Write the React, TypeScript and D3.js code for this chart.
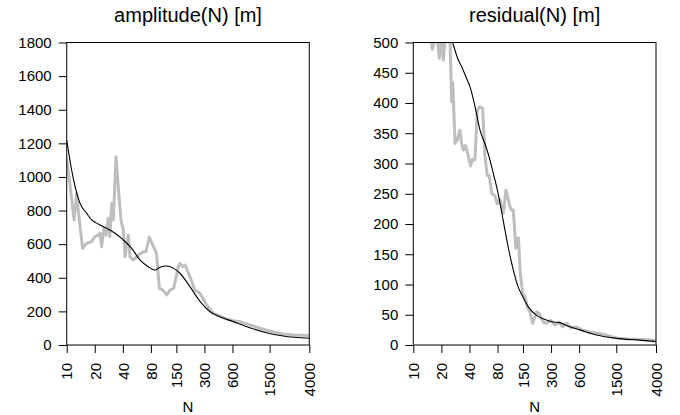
import { useEffect, useRef } from 'react';
import * as d3 from 'd3';

// x positions (N) shared by both panels
const xTicks = [10, 20, 40, 80, 150, 300, 600, 1500, 4000];
const ampTicks = [0, 200, 400, 600, 800, 1000, 1200, 1400, 1600, 1800];
const resTicks = [0, 50, 100, 150, 200, 250, 300, 350, 400, 450, 500];

// amplitude(N) – grey (raw) series
const ampGreyN = [10, 10.8, 12, 12.8, 13.3, 14.8, 16.4, 18.5, 20, 21.8, 22.8, 23.7, 25.1, 26.4, 27.9, 29, 30.4, 31.6, 33.8, 35.7, 38.2, 40.5, 42.2, 45.8, 47.8, 51.8, 58.8, 66.3, 70.8, 76.9, 85, 92, 98.5, 108, 118, 128, 140, 151, 157, 164, 175, 186, 210, 237, 270, 317, 372, 440, 520, 610, 720, 920, 1100, 1390, 1700, 2100, 2700, 3300, 4000];
const ampGrey = [1110, 962, 744, 903, 803, 575, 605, 615, 645, 654, 665, 585, 694, 654, 754, 645, 843, 744, 1120, 942, 744, 684, 525, 654, 525, 506, 535, 555, 555, 641, 585, 545, 337, 327, 298, 327, 337, 417, 466, 486, 466, 476, 406, 327, 307, 238, 189, 172, 155, 145, 138, 120, 105, 88, 76, 66, 60, 58, 57];

// amplitude(N) – black (smoothed) series
const ampBlackN = [10, 11.3, 12.3, 13.9, 16.4, 18.5, 20.5, 22.8, 26.9, 30, 33, 40.5, 49.8, 61, 75, 88.5, 100, 118, 140, 164, 210, 270, 345, 440, 610, 920, 1390, 2100, 4000];
const ampBlack = [1220, 1041, 942, 843, 783, 745, 728, 714, 694, 680, 665, 625, 575, 506, 466, 446, 462, 470, 456, 427, 347, 258, 198, 168, 139, 103, 73, 54, 40];

// residual(N) – grey (raw) series
const resGreyN = [10, 12, 14, 16, 17.8, 19, 19.8, 21, 22.2, 24, 24.8, 25.8, 26.5, 28, 29.6, 31.6, 33, 34.4, 36.4, 38.8, 41.2, 43.3, 45.8, 48.5, 51.8, 55.4, 58.6, 62.1, 65.2, 69.3, 75, 79.4, 84.9, 92.2, 98.5, 108.6, 113, 118, 126, 128, 134, 140, 149, 157, 167, 178, 190, 210, 224, 247, 268, 296, 330, 367, 398, 439, 497, 562, 636, 800, 1086, 1300, 1510, 2000, 2680, 3300, 4000];
const resGrey = [760, 640, 560, 489, 520, 474, 515, 471, 520, 540, 500, 402, 434, 333, 339, 355, 333, 322, 330, 313, 296, 307, 306, 388, 394, 391, 313, 280, 280, 250, 247, 233, 241, 218, 256, 229, 223, 223, 160, 175, 177, 120, 85, 80, 63, 55, 36, 55, 52, 38, 36, 41, 33, 38, 30, 36, 28, 30, 25, 21, 18, 14, 11.5, 10, 9, 8.5, 7];

// residual(N) – black (smoothed) series
const resBlackN = [10, 13, 17, 22, 26.4, 30.4, 33, 37.4, 40.5, 45.9, 51.9, 58.6, 66.3, 72, 81, 92, 104, 118, 133, 149, 171, 210, 258, 318, 372, 458, 612, 922, 1510, 2680, 4000];
const resBlack = [900, 720, 600, 540, 500, 471, 460, 440, 427, 394, 355, 333, 306, 284, 251, 206, 162, 124, 96, 80, 63, 49, 42, 38, 37, 31, 25, 16.5, 11, 8, 5.5];

const FONT = '"Liberation Sans", Arial, Helvetica, sans-serif';

export default function App() {
  const svgRef = useRef<SVGSVGElement>(null);

  useEffect(() => {
    document.body.style.margin = '0';
    if (!svgRef.current) return;
    const svg = d3.select(svgRef.current);
    svg.selectAll('*').remove();

    const top = 42.5;
    const bottom = 345;

    const drawPanel = (
      id: string,
      left: number,
      right: number,
      title: string,
      yMax: number,
      yTicks: number[],
      greyN: number[],
      grey: number[],
      blackN: number[],
      black: number[]
    ) => {
      const x = d3.scaleLog().domain([10, 4000]).range([left, right]);
      const y = d3.scaleLinear().domain([0, yMax]).range([bottom, top]);
      const g = svg.append('g');

      g.append('clipPath')
        .attr('id', id)
        .append('rect')
        .attr('x', left)
        .attr('y', top)
        .attr('width', right - left)
        .attr('height', bottom - top);

      const greyLine = d3.line<[number, number]>()
        .x(d => x(d[0]))
        .y(d => y(d[1]));
      const blackLine = d3.line<[number, number]>()
        .x(d => x(d[0]))
        .y(d => y(d[1]))
        .curve(d3.curveMonotoneX);

      const greyPts = greyN.map((n, i) => [n, grey[i]] as [number, number]);
      const blackPts = blackN.map((n, i) => [n, black[i]] as [number, number]);

      g.append('path')
        .attr('d', greyLine(greyPts))
        .attr('fill', 'none')
        .attr('stroke', '#bebebe')
        .attr('stroke-width', 3)
        .attr('stroke-linejoin', 'round')
        .attr('clip-path', `url(#${id})`);

      g.append('path')
        .attr('d', blackLine(blackPts))
        .attr('fill', 'none')
        .attr('stroke', '#000')
        .attr('stroke-width', 1.1)
        .attr('clip-path', `url(#${id})`);

      // box
      g.append('rect')
        .attr('x', left)
        .attr('y', top)
        .attr('width', right - left)
        .attr('height', bottom - top)
        .attr('fill', 'none')
        .attr('stroke', '#000')
        .attr('stroke-width', 1);

      // y axis
      const yAxis = g.append('g')
        .attr('transform', `translate(${left},0)`)
        .call(d3.axisLeft(y).tickValues(yTicks).tickSize(8).tickPadding(7).tickFormat(d => String(d)));
      yAxis.select('.domain').remove();
      yAxis.selectAll('text')
        .style('font-family', FONT)
        .style('font-size', '15px')
        .attr('fill', '#000');

      // x axis
      const xAxis = g.append('g')
        .attr('transform', `translate(0,${bottom})`)
        .call(d3.axisBottom(x).tickValues(xTicks).tickSize(8).tickFormat(d => String(d)));
      xAxis.select('.domain').remove();
      xAxis.selectAll('text')
        .style('font-family', FONT)
        .style('font-size', '15px')
        .attr('fill', '#000')
        .attr('text-anchor', 'end')
        .attr('transform', 'rotate(-90)')
        .attr('x', -18)
        .attr('y', 0)
        .attr('dy', '0.35em');

      // title
      g.append('text')
        .attr('x', (left + right) / 2)
        .attr('y', 22)
        .attr('text-anchor', 'middle')
        .style('font-family', FONT)
        .style('font-size', '20px')
        .text(title);

      // x label
      g.append('text')
        .attr('x', (left + right) / 2)
        .attr('y', 412)
        .attr('text-anchor', 'middle')
        .style('font-family', FONT)
        .style('font-size', '15px')
        .text('N');
    };

    drawPanel('clipA', 66.7, 309.3, 'amplitude(N) [m]', 1800, ampTicks, ampGreyN, ampGrey, ampBlackN, ampBlack);
    drawPanel('clipR', 413.3, 656, 'residual(N) [m]', 500, resTicks, resGreyN, resGrey, resBlackN, resBlack);
  }, []);

  return (
    <svg ref={svgRef} width={680} height={415} style={{ display: 'block', background: '#fff' }} />
  );
}
